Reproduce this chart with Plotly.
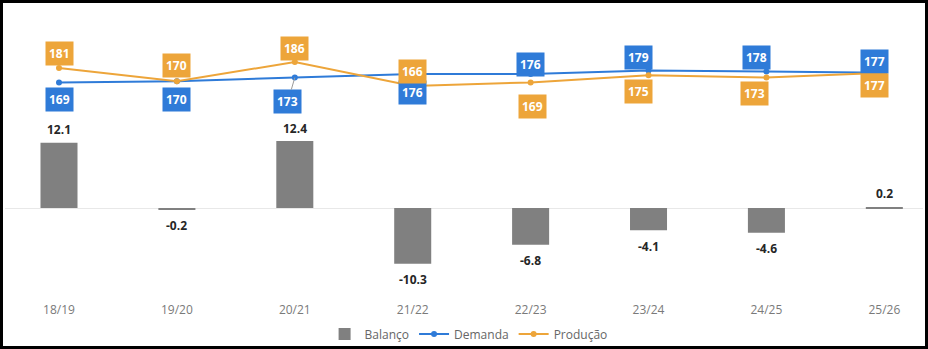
import plotly.graph_objects as go

categories = ["18/19", "19/20", "20/21", "21/22", "22/23", "23/24", "24/25", "25/26"]
balanco = [12.1, -0.2, 12.4, -10.3, -6.8, -4.1, -4.6, 0.2]
demanda = [169, 170, 173, 176, 176, 179, 178, 177]
producao = [181, 170, 186, 166, 169, 175, 173, 177]

# label offsets (pixels) for the boxed value labels
dem_shift = [(0, -17), (0, -18), None, (0, -18), (0, 10), (-10, 13), (-10, 14), (-10, 11)]
prod_shift = [(0, 15), (0, 16), (0, 14), (0, 15), (2, -24), (-10, -16), (-12, -16), (-10, -13)]

BLUE = "#2F7BD8"
ORANGE = "#EDA53A"
GRAY = "#808080"
FONT = "Open Sans"

W, H = 928, 349
ML, MR, MT, MB = 5, 5, 10, 54
PW, PH = W - ML - MR, H - MT - MB

fig = go.Figure()
fig.add_trace(go.Bar(
    x=categories, y=balanco, name="Balanço", marker_color=GRAY,
    marker_line_width=0, width=0.314, yaxis="y",
))
fig.add_trace(go.Scatter(
    x=categories, y=demanda, name="Demanda", mode="lines+markers",
    line=dict(color=BLUE, width=2), marker=dict(size=6, color=BLUE), yaxis="y2",
))
fig.add_trace(go.Scatter(
    x=categories, y=producao, name="Produção", mode="lines+markers",
    line=dict(color=ORANGE, width=2), marker=dict(size=6, color=ORANGE), yaxis="y2",
))

ann = []
for c, v in zip(categories, balanco):
    ann.append(dict(
        x=c, y=v, xref="x", yref="y", text=f"{v:.1f}", showarrow=False,
        yshift=13 if v >= 0 else -16,
        font=dict(family=FONT, size=12, color="#262626", weight="bold"),
    ))

def box(c, v, color, shift):
    if shift is None:
        return dict(x=c, y=v, xref="x", yref="y2", text=str(v), showarrow=True,
                    ax=-7, ay=24, arrowhead=0, arrowwidth=1, arrowcolor="#9a9a9a",
                    bgcolor=color, borderpad=3,
                    font=dict(family=FONT, size=12, color="white", weight="bold"))
    return dict(x=c, y=v, xref="x", yref="y2", text=str(v), showarrow=False,
                xshift=shift[0], yshift=shift[1], bgcolor=color, borderpad=3,
                font=dict(family=FONT, size=12, color="white", weight="bold"))

for c, v, s in zip(categories, demanda, dem_shift):
    ann.append(box(c, v, BLUE, s))
for c, v, s in zip(categories, producao, prod_shift):
    ann.append(box(c, v, ORANGE, s))

# outer black frame
fx0 = (1.5 - ML) / PW
fx1 = (W - 1.5 - ML) / PW
fy1 = (H - MB - 1.5) / PH
fy0 = (H - MB - (H - 1.5)) / PH

fig.update_layout(
    width=W, height=H,
    margin=dict(l=ML, r=MR, t=MT, b=MB, autoexpand=False),
    paper_bgcolor="white", plot_bgcolor="white",
    font=dict(family=FONT, size=12, color="#777777"),
    barmode="overlay",
    xaxis=dict(type="category", range=[-0.458, 7.328], showgrid=False,
               showline=False, zeroline=False, ticks="", ticklabelstandoff=6,
               tickfont=dict(family=FONT, size=12, color="#7a7a7a")),
    yaxis=dict(range=[-16.11, 36.67], showgrid=False, showticklabels=False,
               zeroline=True, zerolinecolor="#e8e8e8", zerolinewidth=1, showline=False),
    yaxis2=dict(range=[-8.17, 229.33], overlaying="y", side="right", visible=False),
    legend=dict(orientation="h", x=0.505, xanchor="center", y=-0.137, yanchor="middle",
                font=dict(family=FONT, size=12, color="#666666"),
                bgcolor="rgba(0,0,0,0)",
                traceorder="normal", itemwidth=30),
    annotations=ann,
    shapes=[dict(type="rect", xref="paper", yref="paper", x0=fx0, x1=fx1, y0=fy0, y1=fy1,
                 line=dict(color="black", width=3), fillcolor="rgba(0,0,0,0)", layer="above")],
    showlegend=True,
)

fig.write_html("out.html")
